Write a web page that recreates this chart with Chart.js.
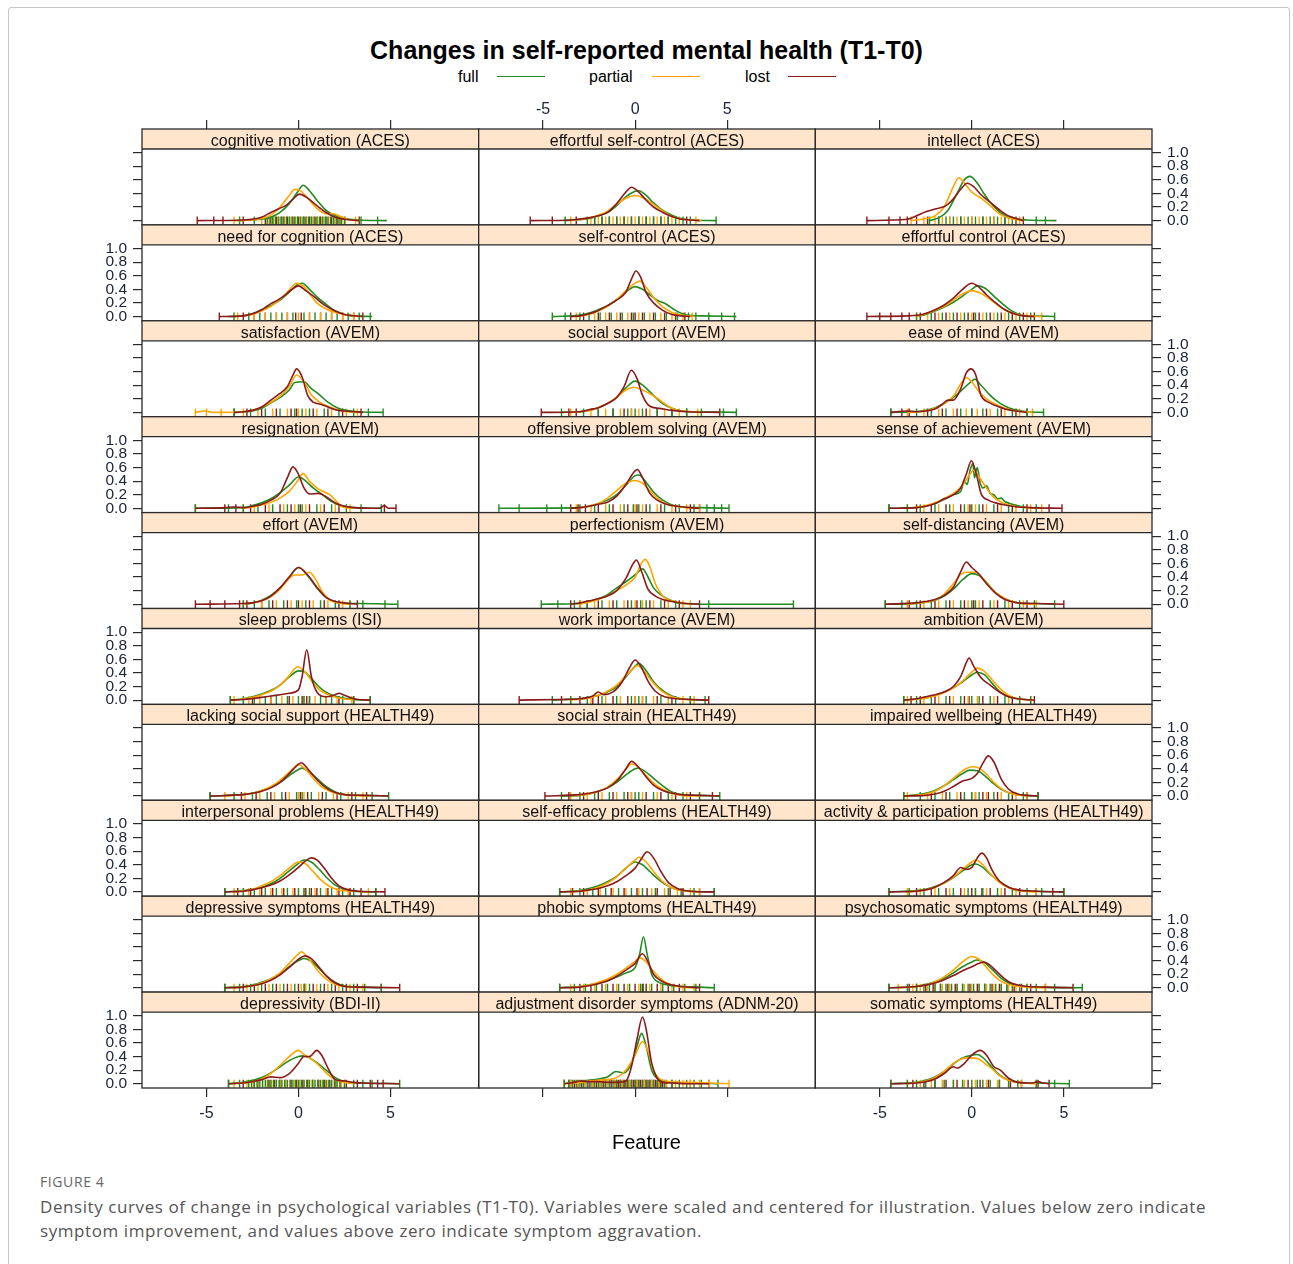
<!DOCTYPE html>
<html><head><meta charset="utf-8">
<script src="https://cdn.jsdelivr.net/npm/chart.js@4.4.1/dist/chart.umd.min.js"></script>
<style>
html,body{margin:0;padding:0;background:#fff;}
body{width:1293px;height:1264px;overflow:hidden;position:relative;font-family:"Liberation Sans",Arial,sans-serif;}
#frame{position:absolute;left:8px;top:7px;width:1282px;height:1300px;border:1px solid #c8c8c8;border-radius:3px;box-sizing:border-box;}
#title{position:absolute;left:0;width:1293px;top:35px;text-align:center;font-weight:bold;font-size:25px;line-height:30px;color:#000;}
.lg{position:absolute;top:67px;font-size:16px;line-height:20px;color:#000;}
.ln{position:absolute;top:76px;height:0;border-top:1.5px solid;}
#feature{position:absolute;left:0;width:1293px;top:1130px;text-align:center;font-size:20px;line-height:24px;color:#000;}
#figlab{position:absolute;left:40px;top:1172px;font-family:"Open Sans",sans-serif;font-size:14px;letter-spacing:0.6px;color:#666;}
#caption{position:absolute;left:40px;top:1195px;width:1185px;font-family:"Open Sans",sans-serif;font-size:17px;letter-spacing:0.58px;line-height:24px;color:#555;}
#cv{position:absolute;left:0;top:0;}
</style></head>
<body>
<div id="frame"></div>
<div id="title">Changes in self-reported mental health (T1-T0)</div>
<div class="lg" style="left:458px">full</div><div class="ln" style="left:497px;width:48px;border-color:#228B22"></div>
<div class="lg" style="left:589px">partial</div><div class="ln" style="left:652px;width:48px;border-color:#FFA500"></div>
<div class="lg" style="left:745px">lost</div><div class="ln" style="left:788px;width:48px;border-color:#8B1A1A"></div>
<canvas id="cv" width="1293" height="1160"></canvas>
<div id="feature">Feature</div>
<div id="figlab">FIGURE 4</div>
<div id="caption">Density curves of change in psychological variables (T1-T0). Variables were scaled and centered for illustration. Values below zero indicate symptom improvement, and values above zero indicate symptom aggravation.</div>
<script>
const groupNames = ['full','partial','lost'];
const groupColors = ['#228B22','#FFA500','#8B1A1A'];
const xTicks = [-5, 0, 5];
const yTicks = [0, 0.2, 0.4, 0.6, 0.8, 1.0];

const panelNames = [
 'cognitive motivation (ACES)','effortful self-control (ACES)','intellect (ACES)',
 'need for cognition (ACES)','self-control (ACES)','effortful control (ACES)',
 'satisfaction (AVEM)','social support (AVEM)','ease of mind (AVEM)',
 'resignation (AVEM)','offensive problem solving (AVEM)','sense of achievement (AVEM)',
 'effort (AVEM)','perfectionism (AVEM)','self-distancing (AVEM)',
 'sleep problems (ISI)','work importance (AVEM)','ambition (AVEM)',
 'lacking social support (HEALTH49)','social strain (HEALTH49)','impaired wellbeing (HEALTH49)',
 'interpersonal problems (HEALTH49)','self-efficacy problems (HEALTH49)','activity & participation problems (HEALTH49)',
 'depressive symptoms (HEALTH49)','phobic symptoms (HEALTH49)','psychosomatic symptoms (HEALTH49)',
 'depressivity (BDI-II)','adjustment disorder symptoms (ADNM-20)','somatic symptoms (HEALTH49)'
];

// density curves as [x, y, x, y, ...] per panel
const fullDensity = [
 [-3.2,0,-2,.02,-1.5,.05,-1,.12,-0.5,.25,0,.44,0.25,.52,0.6,.44,1,.3,1.5,.15,2,.07,2.5,.03,3.2,.01,4.8,0],
 [-3.8,0,-2.5,.03,-2,.07,-1.5,.12,-1,.22,-0.5,.35,0,.43,0.2,.44,0.6,.37,1,.26,1.5,.15,2,.08,2.5,.03,3,.01,4.4,0],
 [-2.3,0,-1.8,.04,-1.3,.15,-0.8,.4,-0.4,.6,-0.1,.65,0.3,.55,0.7,.38,1,.27,1.5,.13,2,.05,2.5,.02,3,.01,4.6,0],
 [-3.8,0,-3,.01,-2.5,.04,-2,.1,-1.5,.16,-1,.24,-0.5,.36,0,.48,0.2,.49,0.6,.4,1,.29,1.5,.18,2,.08,2.5,.03,3,.01,4,0],
 [-4.5,0,-3,.02,-2.5,.05,-2,.1,-1.5,.16,-1,.25,-0.5,.36,0,.44,0.4,.4,0.8,.32,1.2,.24,1.7,.18,2.2,.09,2.8,.02,3.5,.01,5.5,0],
 [-3,0,-2.5,.03,-2,.08,-1.5,.14,-1,.21,-0.5,.3,0,.4,0.3,.45,0.7,.42,1.2,.3,1.7,.18,2.2,.08,2.7,.02,3.2,.01,4.5,0],
 [-3.5,0,-2.5,.02,-2,.06,-1.5,.14,-1,.22,-0.5,.33,-0.2,.44,0.3,.45,0.7,.35,1.1,.27,1.6,.15,2.1,.07,2.6,.03,3.2,.01,4.6,0],
 [-4,0,-3,.01,-2.5,.03,-2,.07,-1.5,.13,-1,.22,-0.5,.36,0,.46,0.5,.38,1,.25,1.5,.13,2,.06,2.5,.02,3.5,.01,5.5,0],
 [-4.4,0,-3,.01,-2.5,.03,-2,.07,-1.5,.13,-1,.22,-0.5,.34,0,.46,0.15,.49,0.5,.4,1,.25,1.5,.14,2,.07,2.5,.03,3,.01,3.9,0],
 [-5.6,0,-3,.01,-2.5,.04,-2,.08,-1.5,.14,-1,.23,-0.5,.34,0,.46,0.4,.4,0.8,.3,1.3,.2,1.8,.1,2.3,.04,3,.01,4.5,0],
 [-7.4,0,-3,.01,-2.5,.03,-2,.07,-1.5,.12,-1,.2,-0.5,.34,0,.48,0.2,.49,0.6,.38,1,.24,1.5,.12,2,.05,2.5,.02,3.5,.01,5.1,0],
 [-4.5,0,-3,.01,-2.5,.03,-2,.07,-1.5,.13,-1,.2,-0.6,.25,-0.4,.4,-0.25,.35,-0.1,.55,0.05,.66,0.15,.45,0.3,.6,0.45,.38,0.6,.3,0.8,.33,1,.22,1.2,.2,1.4,.14,1.6,.15,1.8,.1,2.2,.06,2.8,.02,3.5,0],
 [-3,0,-2.5,.02,-2,.06,-1.5,.13,-1,.24,-0.5,.4,0,.54,0.5,.42,1,.24,1.5,.1,2,.03,2.5,.01,3.2,.01,5.4,0],
 [-5.1,0,-3,.01,-2.5,.04,-2,.08,-1.5,.14,-1,.24,-0.5,.33,0,.43,0.4,.52,0.7,.4,1,.24,1.5,.12,2,.05,2.5,.01,4,0,8.6,0],
 [-4.7,0,-3,.01,-2.5,.03,-2,.06,-1.5,.12,-1,.22,-0.5,.36,0,.45,0.4,.42,0.8,.32,1.3,.17,1.8,.08,2.5,.02,3.5,.01,4.5,0],
 [-3.7,0,-3,.02,-2.5,.05,-2,.09,-1.5,.14,-1,.22,-0.5,.34,0,.43,0.3,.42,0.7,.32,1.1,.2,1.6,.1,2.2,.04,3,.01,3.9,0],
 [-4.5,0,-3,.02,-2.5,.04,-2,.07,-1.5,.12,-1,.2,-0.5,.34,0,.5,0.2,.54,0.6,.43,1,.27,1.5,.14,2,.06,2.5,.02,3.8,0],
 [-3.7,0,-2.5,.03,-2,.07,-1.5,.12,-1,.18,-0.5,.27,0,.37,0.3,.41,0.7,.37,1.1,.25,1.5,.13,2,.05,2.5,.02,3.2,0],
 [-4.8,0,-3,.02,-2.5,.04,-2,.08,-1.5,.13,-1,.2,-0.5,.3,0,.39,0.2,.41,0.6,.35,1,.26,1.5,.14,2,.06,2.5,.02,3.5,.01,4.9,0],
 [-4,0,-3,.01,-2.5,.03,-2,.07,-1.5,.12,-1,.2,-0.5,.31,0,.4,0.15,.41,0.5,.37,1,.26,1.5,.15,2,.06,2.5,.02,3.5,.01,4.6,0],
 [-3.7,0,-2.5,.04,-2,.08,-1.5,.15,-1,.24,-0.5,.33,-0.1,.38,0.3,.37,0.7,.3,1.1,.2,1.6,.1,2.1,.04,2.8,.01,3.6,0],
 [-4,0,-3,.02,-2.5,.04,-2,.07,-1.5,.12,-1,.2,-0.5,.31,0,.42,0.3,.47,0.7,.44,1.1,.34,1.5,.22,2,.1,2.5,.04,3,.01,4.2,0],
 [-4.1,0,-3,.02,-2.5,.05,-2,.09,-1.5,.15,-1,.23,-0.5,.35,0,.44,0.4,.4,0.8,.3,1.2,.2,1.7,.1,2.2,.04,3,.01,4.3,0],
 [-4.5,0,-3,.02,-2.5,.04,-2,.08,-1.5,.13,-1,.21,-0.5,.31,0,.4,0.2,.41,0.6,.36,1,.26,1.5,.15,2,.07,2.5,.02,3.5,.01,5,0],
 [-4,0,-3,.02,-2.5,.04,-2,.08,-1.5,.13,-1,.21,-0.5,.31,0,.4,0.3,.43,0.7,.39,1.1,.29,1.5,.18,2,.08,2.5,.03,3.5,.01,4.5,0],
 [-4.1,0,-3,.02,-2.5,.04,-2,.07,-1.5,.11,-1,.16,-0.5,.22,0,.3,0.25,.5,0.45,.75,0.65,.5,0.9,.2,1.3,.08,1.8,.04,2.5,.02,3.5,.01,4.3,0],
 [-4.5,0,-3,.02,-2.5,.05,-2,.09,-1.5,.14,-1,.22,-0.5,.31,0,.38,0.3,.41,0.7,.37,1.1,.27,1.6,.14,2.1,.06,2.8,.02,3.5,.01,6,0],
 [-3.8,0,-3,.02,-2.5,.05,-2,.09,-1.5,.16,-1,.25,-0.5,.34,0,.4,0.25,.41,0.6,.38,1,.31,1.5,.2,2,.09,2.5,.03,3.5,.01,5.5,0],
 [-3.85,0,-3,.03,-2.5,.05,-2,.07,-1.5,.1,-1.05,.18,-0.6,.16,-0.2,.3,0.1,.55,0.35,.74,0.6,.55,0.9,.2,1.3,.06,2,.02,3,.01,4.5,0],
 [-4.4,0,-3,.02,-2.5,.05,-2,.1,-1.5,.18,-1,.29,-0.5,.38,0,.42,0.3,.43,0.7,.36,1.1,.24,1.5,.13,2,.05,2.5,.02,3.5,.01,5.3,0]
];
const partialDensity = [
 [-3.5,0,-2.5,.01,-2,.03,-1.5,.08,-1,.2,-0.5,.37,-0.2,.46,0.1,.44,0.5,.33,1,.18,1.5,.1,1.9,.1,2.3,.06,2.8,.01,3.3,0],
 [-3.5,0,-2.5,.04,-2,.08,-1.5,.14,-1,.24,-0.5,.33,0,.37,0.5,.33,1,.24,1.5,.14,2,.06,2.5,.02,3,.01,3.6,0],
 [-3.3,0,-2.5,.03,-2,.07,-1.5,.2,-1,.5,-0.7,.63,-0.4,.55,0,.42,0.5,.33,1,.22,1.5,.1,2,.04,2.8,0],
 [-3.5,0,-2.5,.03,-2,.08,-1.5,.15,-1,.25,-0.5,.39,-0.1,.49,0.3,.44,0.7,.3,1,.2,1.5,.11,2,.06,2.5,.03,3.3,0],
 [-3.2,0,-2.5,.03,-2,.08,-1.5,.15,-1,.25,-0.5,.38,0,.49,0.25,.52,0.6,.43,1,.28,1.5,.14,2,.06,2.5,.02,3.2,0],
 [-3,0,-2.5,.04,-2,.09,-1.5,.15,-1,.24,-0.5,.33,0,.38,0.5,.34,1,.25,1.5,.15,2,.07,2.5,.03,3,.01,3.8,0],
 [-5.6,0,-5.1,.02,-4.6,0,-3,.01,-2.5,.03,-2,.08,-1.5,.15,-1,.24,-0.5,.38,-0.1,.55,0.3,.45,0.7,.26,1.1,.16,1.6,.09,2.1,.04,2.6,.01,3.2,0],
 [-3.5,0,-2.5,.03,-2,.07,-1.5,.13,-1,.22,-0.5,.33,-0.1,.37,0.4,.33,0.9,.26,1.3,.19,1.8,.09,2.3,.03,3,.01,3.6,0],
 [-3.5,0,-2.5,.02,-2,.06,-1.5,.13,-1,.24,-0.6,.42,-0.3,.51,0,.45,0.4,.3,0.8,.2,1.3,.12,1.8,.06,2.4,.02,3.3,0],
 [-3,0,-2.5,.02,-2,.05,-1.5,.09,-1,.15,-0.5,.25,0,.42,0.25,.51,0.6,.4,1,.3,1.4,.24,1.7,.2,2,.12,2.4,.02,3,0],
 [-3.2,0,-2.5,.03,-2,.07,-1.5,.15,-1,.26,-0.5,.37,0,.41,0.4,.37,0.8,.26,1.2,.15,1.7,.06,2.2,.03,2.8,.01,3.5,0],
 [-3.5,0,-2.5,.04,-2,.08,-1.5,.14,-1,.22,-0.5,.34,-0.1,.5,0.1,.56,0.4,.46,0.8,.3,1.2,.16,1.7,.08,2.3,.03,3,.01,3.8,0],
 [-3,0,-2.5,.02,-2,.05,-1.5,.11,-1,.22,-0.5,.38,-0.2,.43,0.2,.43,0.6,.47,0.9,.38,1.3,.18,1.7,.06,2.2,.02,2.8,0],
 [-3,0,-2.5,.03,-2,.07,-1.5,.12,-1,.2,-0.5,.28,0,.4,0.3,.58,0.55,.66,0.8,.55,1.1,.3,1.5,.12,2,.05,2.5,.02,3,0],
 [-3.5,0,-2.5,.03,-2,.06,-1.5,.15,-1,.3,-0.6,.44,-0.3,.47,0.2,.47,0.6,.38,1,.25,1.5,.13,2,.06,2.5,.02,3.5,0],
 [-3.5,0,-2.5,.04,-2,.08,-1.5,.13,-1,.22,-0.5,.36,-0.05,.49,0.4,.4,0.8,.25,1.2,.14,1.7,.07,2.2,.03,3,0],
 [-3.5,0,-2.5,.03,-2,.07,-1.5,.13,-1,.22,-0.5,.36,0,.49,0.1,.51,0.5,.42,1,.25,1.5,.12,2,.05,2.5,.02,3.2,0],
 [-3.5,0,-2.5,.03,-2,.06,-1.5,.11,-1,.18,-0.5,.28,0,.41,0.3,.47,0.7,.42,1.1,.3,1.5,.18,2,.07,2.5,.02,3.2,0],
 [-4,0,-2.5,.04,-2,.08,-1.5,.14,-1,.23,-0.5,.35,0,.46,0.4,.39,0.8,.26,1.2,.15,1.7,.07,2.2,.03,3,.01,4,0],
 [-3.5,0,-2.5,.03,-2,.07,-1.5,.13,-1,.24,-0.5,.39,-0.2,.47,0.2,.42,0.6,.3,1,.19,1.5,.1,2,.04,2.5,.01,3.5,0],
 [-3.5,0,-2.5,.03,-2,.07,-1.5,.15,-1,.26,-0.5,.37,0,.43,0.4,.41,0.8,.32,1.2,.2,1.7,.09,2.2,.03,3,0],
 [-3.5,0,-2.5,.04,-2,.09,-1.5,.15,-1,.24,-0.5,.35,0,.44,0.4,.41,0.8,.3,1.2,.18,1.7,.08,2.2,.03,3,.01,3.8,0],
 [-3.5,0,-2.5,.03,-2,.07,-1.5,.13,-1,.22,-0.5,.35,0,.47,0.2,.51,0.6,.44,1,.3,1.5,.15,2,.06,2.5,.02,3.5,0],
 [-3.5,0,-2.5,.03,-2,.07,-1.5,.13,-1,.22,-0.5,.33,0,.44,0.2,.47,0.6,.4,1,.27,1.5,.14,2,.06,2.5,.02,3.5,0],
 [-3.5,0,-2.5,.03,-2,.07,-1.5,.13,-1,.22,-0.5,.36,0,.5,0.15,.53,0.5,.45,1,.27,1.5,.13,2,.05,2.5,.02,3.5,0],
 [-3.5,0,-2.5,.04,-2,.08,-1.5,.13,-1,.2,-0.5,.29,0,.39,0.25,.44,0.6,.38,1,.24,1.5,.11,2,.04,2.5,.01,3.2,0],
 [-4,0,-3,.02,-2.5,.04,-2,.09,-1.5,.16,-1,.26,-0.5,.38,0,.46,0.4,.42,0.8,.3,1.2,.18,1.7,.08,2.3,.03,3,.01,4,0],
 [-3.5,0,-2.5,.03,-2,.07,-1.5,.15,-1,.27,-0.5,.4,0,.49,0.3,.43,0.7,.36,1,.3,1.5,.16,2,.06,2.5,.02,3,0],
 [-3.85,0,-3,.02,-2.5,.04,-2,.05,-1.5,.06,-1,.09,-0.5,.2,0,.42,0.4,.62,0.7,.48,1,.2,1.4,.06,2,.03,3,.02,4,.01,5.1,0],
 [-3.5,0,-2.5,.04,-2,.09,-1.5,.18,-1,.3,-0.5,.37,-0.15,.38,0.3,.37,0.7,.3,1.1,.22,1.5,.12,2,.05,2.5,.02,3.5,0]
];
const lostDensity = [
 [-5.5,0,-3,.01,-2,.05,-1.5,.12,-1.1,.17,-0.6,.24,-0.2,.34,0.05,.39,0.5,.33,1,.22,1.5,.12,2,.05,2.5,.02,3.3,0],
 [-5.7,0,-3.5,.01,-2.5,.04,-2,.07,-1.5,.12,-1,.25,-0.5,.42,-0.2,.49,0.2,.42,0.6,.3,1,.2,1.5,.12,2,.06,2.5,.02,3,.01,3.5,0],
 [-5.7,0,-3.5,.02,-3,.07,-2.5,.13,-2,.17,-1.4,.22,-1,.32,-0.6,.46,-0.25,.55,0.1,.5,0.5,.38,1,.27,1.5,.16,2,.07,2.8,0],
 [-4.3,0,-3,.01,-2.5,.04,-2,.1,-1.5,.19,-1.2,.23,-0.8,.3,-0.4,.39,0,.45,0.4,.38,0.9,.28,1.4,.17,2,.08,2.5,.03,3.5,0],
 [-3.5,0,-3,.01,-2.5,.04,-2,.09,-1.5,.16,-1,.24,-0.5,.36,-0.2,.55,0.05,.67,0.3,.58,0.6,.35,1,.2,1.5,.09,2,.03,2.5,.01,3,0],
 [-5.7,0,-3.5,.01,-2.7,.03,-2,.1,-1.5,.17,-1,.27,-0.5,.4,0,.49,0.4,.43,0.8,.32,1.3,.2,1.8,.1,2.3,.04,2.8,.01,3.4,0],
 [-3.5,0,-3,.01,-2.5,.03,-2,.08,-1.5,.18,-1.1,.26,-0.6,.38,-0.3,.55,-0.1,.64,0.2,.52,0.5,.25,0.8,.15,1.2,.12,1.6,.08,2,.04,2.5,.02,3,.01,3.5,0],
 [-5.1,0,-3,.01,-2.5,.04,-2,.07,-1.5,.13,-1,.22,-0.6,.38,-0.2,.62,0.1,.5,0.4,.25,0.8,.09,1.3,.06,2,.03,2.8,.01,4.6,0],
 [-4.4,0,-3.5,.02,-3,.01,-2.5,.02,-2,.05,-1.6,.12,-1.3,.18,-1,.18,-0.6,.35,-0.3,.58,-0.05,.64,0.2,.56,0.5,.25,0.9,.15,1.3,.1,1.8,.05,2.4,.02,3,0],
 [-5.6,0,-4,.01,-3.5,.02,-3,.01,-2.5,.03,-2,.06,-1.5,.12,-1,.22,-0.6,.45,-0.3,.61,0,.5,0.3,.3,0.6,.21,1.1,.22,1.5,.17,2,.08,2.5,.03,3,.01,4.4,0,4.67,.04,4.9,0,5.3,0],
 [-3.5,0,-3,.01,-2.5,.03,-2,.06,-1.5,.09,-1,.18,-0.5,.35,-0.1,.52,0.12,.57,0.4,.45,0.8,.22,1.2,.12,1.7,.06,2.3,.03,3,.01,3.5,0],
 [-4.5,0,-3,.01,-2.5,.03,-2,.07,-1.5,.14,-1,.2,-0.6,.3,-0.3,.5,-0.02,.7,0.25,.5,0.5,.22,0.9,.12,1.3,.08,1.8,.05,2.5,.02,3.2,.01,4.9,0],
 [-5.6,0,-3,.01,-2.5,.02,-2,.05,-1.5,.12,-1,.24,-0.5,.4,0,.54,0.5,.43,1,.25,1.5,.1,2,.04,2.5,.02,3.2,0],
 [-3.5,0,-3,.02,-2.5,.05,-2,.08,-1.5,.12,-1,.2,-0.5,.38,-0.1,.6,0.07,.65,0.35,.48,0.7,.22,1.1,.12,1.5,.07,2,.04,2.8,.01,3.5,0],
 [-4.7,0,-3,.02,-2.5,.04,-2,.07,-1.5,.13,-1,.25,-0.6,.48,-0.3,.62,0,.54,0.4,.44,0.8,.3,1.3,.16,1.8,.07,2.5,.02,3.5,.01,5,0],
 [-3.7,0,-3,.01,-2,.04,-1.5,.06,-1,.08,-0.5,.1,0,.15,0.2,.35,0.45,.74,0.7,.35,1,.12,1.5,.05,2,.08,2.2,.1,2.5,.07,3,.02,3.9,0],
 [-6.3,0,-4,.01,-3,.02,-2.3,.06,-2,.12,-1.7,.08,-1.2,.12,-0.7,.27,-0.3,.48,0,.59,0.3,.5,0.7,.28,1.1,.13,1.6,.05,2.2,.02,3,.01,4,0],
 [-3.7,0,-3,.02,-2.5,.05,-2,.08,-1.5,.12,-1,.2,-0.6,.35,-0.3,.55,-0.15,.62,0.1,.5,0.5,.33,1,.22,1.5,.12,2,.05,2.5,.02,3.4,0],
 [-4.8,0,-3,.02,-2.5,.04,-2,.07,-1.5,.12,-1,.2,-0.5,.33,0,.47,0.15,.49,0.5,.4,1,.24,1.5,.12,2,.05,2.5,.02,3.5,.01,4.9,0],
 [-4.9,0,-3,.02,-2.5,.04,-2,.07,-1.5,.12,-1,.22,-0.5,.4,-0.2,.51,0.2,.42,0.6,.28,1,.16,1.5,.08,2,.04,2.5,.02,3.5,.01,4.6,0],
 [-3.7,0,-2.5,.01,-2,.03,-1.5,.07,-1,.14,-0.5,.22,0,.26,0.3,.33,0.6,.48,0.9,.59,1.2,.5,1.6,.25,2,.1,2.5,.03,3,.01,3.6,0],
 [-4,0,-3,.01,-2.5,.03,-2,.06,-1.5,.1,-1,.16,-0.5,.25,0,.36,0.4,.46,0.7,.5,1,.47,1.4,.35,1.8,.2,2.2,.09,2.7,.03,3.3,.01,4.7,0],
 [-4.1,0,-3,.01,-2.5,.03,-2,.05,-1.5,.09,-1,.15,-0.5,.24,0,.35,0.3,.47,0.65,.59,1,.5,1.4,.3,1.8,.14,2.3,.05,3,.01,4.3,0],
 [-4.5,0,-3,.01,-2.5,.03,-2,.07,-1.5,.14,-1,.24,-0.6,.36,-0.3,.33,0,.36,0.3,.5,0.55,.57,0.8,.5,1.1,.32,1.5,.16,2,.07,2.5,.03,3.5,.01,5,0],
 [-4,0,-3,.01,-2.5,.03,-2,.06,-1.5,.11,-1,.19,-0.5,.3,0,.42,0.35,.47,0.7,.43,1.1,.31,1.5,.18,2,.07,2.5,.02,3.5,.01,5.5,0],
 [-4.1,0,-3,.01,-2.5,.03,-2,.06,-1.5,.1,-1,.17,-0.5,.26,0,.36,0.4,.5,0.7,.38,1,.2,1.5,.09,2,.04,2.5,.02,3.5,0],
 [-4.5,0,-3,.02,-2.5,.04,-2,.07,-1.5,.12,-1,.18,-0.5,.25,0,.31,0.4,.36,0.65,.38,1,.33,1.5,.2,2,.09,2.5,.04,3,.02,4,.01,5.5,0],
 [-3.8,0,-3,.01,-2.5,.03,-2,.06,-1.5,.1,-1,.09,-0.5,.15,0,.3,0.3,.4,0.6,.4,1,.49,1.3,.4,1.6,.23,2,.06,2.5,.04,3,.02,3.5,.01,5.5,0],
 [-3.85,0,-3.3,.02,-3,.04,-2.5,.03,-2,.03,-1.5,.02,-1,.02,-0.5,.04,-0.2,.25,0.1,.65,0.4,.98,0.6,.8,0.9,.3,1.2,.08,1.5,.02,2,.01,3,0,4,0],
 [-4.4,0,-3,.01,-2.5,.03,-2,.07,-1.5,.15,-1,.25,-0.8,.23,-0.4,.3,0,.42,0.45,.49,0.8,.42,1.2,.25,1.55,.2,2,.08,2.5,.02,3.3,.01,3.6,.03,3.9,.01,4.2,0]
];

// rug (observed values) per panel
const fullRug = [
 [-3.2,-2.4,-1.7,-1.55,-1.4,-1.25,-1.1,-0.95,-0.8,-0.65,-0.5,-0.35,-0.2,-0.05,0.1,0.25,0.4,0.55,0.7,0.85,1.0,1.15,1.3,1.45,1.6,1.75,1.9,2.05,2.2,2.35,2.5,3.4,4.3],
 [-3.8,-2.6,-2.2,-1.8,-1.4,-1.0,-0.6,-0.2,0.2,0.6,1.0,1.4,1.8,2.2,2.6,3.0,4.4],
 [-2.3,-1.8,-1.4,-1.0,-0.6,-0.2,0.2,0.6,1.0,1.4,1.8,2.2,3.5,4.0],
 [-3.5,-2.7,-2.1,-1.5,-0.9,-0.3,0.3,0.9,1.5,2.1,2.7,3.3,3.9],
 [-4.5,-3.8,-3.0,-2.5,-1.9,-1.3,-0.7,-0.1,0.5,1.1,1.7,2.3,2.9,3.3,4.0,4.7,5.4],
 [-3.0,-2.2,-1.6,-1.0,-0.4,0.2,0.8,1.4,2.0,2.6,3.2,4.5],
 [-3.5,-2.6,-1.8,-1.0,-0.2,0.2,0.6,1.4,2.2,3.0,3.8,4.6],
 [-4.0,-2.8,-2.0,-1.2,-0.4,0,0.4,1.2,2.0,2.8,3.6,4.8,5.5],
 [-4.4,-3.0,-2.2,-1.4,-0.6,0,0.6,1.4,2.2,3.0,3.9],
 [-5.6,-3.8,-3.0,-2.2,-1.4,-0.6,0,0.2,1.0,1.8,2.6,3.4,4.5],
 [-7.4,-6.3,-4.8,-4.0,-3.0,-2.2,-1.4,-0.6,-0.1,0.2,0.8,1.6,2.4,3.2,3.9,4.3,4.7,5.1],
 [-4.5,-3.5,-2.8,-2.0,-1.2,-0.4,0,0.4,1.2,2.0,2.8,3.5],
 [-3.0,-2.4,-1.6,-0.8,-0.1,0.4,1.2,2.0,2.8,3.5,4.7,5.4],
 [-5.1,-4.2,-3.3,-2.6,-1.8,-1.0,-0.2,0.3,0.6,1.4,2.2,4.0,8.6],
 [-4.7,-3.8,-3.0,-2.2,-1.4,-0.6,0,0.2,1.0,1.8,2.6,3.4,4.5],
 [-3.7,-3.0,-2.4,-1.8,-1.2,-0.6,0,0.3,0.6,1.2,1.8,2.4,3.0,3.9],
 [-4.5,-3.5,-2.6,-1.8,-1.0,-0.2,0.2,0.6,1.4,2.2,3.0,3.8],
 [-3.7,-3.0,-2.2,-1.4,-0.6,0,0.4,1.0,1.8,2.6,3.2],
 [-4.8,-3.5,-2.5,-1.7,-0.9,-0.1,0.2,0.7,1.5,2.3,3.1,4.0,4.9],
 [-4.0,-3.0,-2.2,-1.4,-0.6,0,0.2,1.0,1.8,2.6,3.5,4.6],
 [-3.7,-2.8,-2.0,-1.2,-0.4,0,0.4,1.2,2.0,2.8,3.6],
 [-4.0,-3.0,-2.4,-1.8,-1.2,-0.6,0,0.3,0.6,1.2,1.8,2.4,3.0,4.2],
 [-4.1,-3.0,-2.3,-1.6,-0.9,-0.2,0.4,1.1,1.8,2.5,3.2,4.3],
 [-4.5,-3.4,-2.6,-1.8,-1.0,-0.2,0.2,0.6,1.4,2.2,3.0,3.8,5.0],
 [-4.0,-3.2,-2.6,-2.0,-1.4,-0.8,-0.2,0.3,0.6,1.2,1.8,2.4,3.0,3.6,4.5],
 [-4.1,-3.3,-2.7,-2.1,-1.5,-0.9,-0.3,0.3,0.45,0.9,1.5,2.1,2.7,3.3,4.3],
 [-4.5,-3.5,-3.0,-2.6,-2.3,-2.0,-1.7,-1.4,-1.1,-0.8,-0.5,-0.2,0.1,0.4,0.7,1.0,1.3,1.6,1.9,2.2,2.6,3.0,3.5,4.5,6.0],
 [-3.8,-3.2,-2.7,-2.55,-2.4,-2.25,-2.1,-1.95,-1.8,-1.65,-1.5,-1.35,-1.2,-1.05,-0.9,-0.75,-0.6,-0.45,-0.3,-0.15,0,0.15,0.3,0.45,0.6,0.75,0.9,1.05,1.2,1.35,1.5,1.65,1.8,1.95,2.1,2.25,2.5,3.0,3.5,4.0,5.5],
 [-3.85,-3.6,-3.4,-3.2,-3.0,-2.8,-2.6,-2.4,-2.2,-2.0,-1.8,-1.6,-1.4,-1.2,-1.0,-0.8,-0.6,-0.4,-0.2,0,0.2,0.4,0.6,0.8,1.0,1.2,1.4,1.6,2.0,2.4,2.8,3.2,3.6,4.5],
 [-4.4,-3.5,-3.0,-2.5,-2.0,-1.5,-1.0,-0.5,0,0.3,0.6,1.0,1.5,2.0,2.5,3.5,4.5,5.3]
];
const partialRug = [
 [-3.5,-2.0,-1.65,-1.35,-1.05,-0.75,-0.45,-0.15,0.15,0.45,0.75,1.05,1.35,1.65,1.95,2.25,2.55,3.1],
 [-3.5,-2.4,-2.0,-1.6,-1.2,-0.8,-0.4,0,0.4,0.8,1.2,1.6,2.0,2.4,3.3],
 [-3.3,-2.6,-2.0,-1.6,-1.2,-0.8,-0.4,0,0.4,0.8,1.2,1.6,2.0,2.6],
 [-3.3,-2.4,-1.8,-1.2,-0.6,0,0.6,1.2,1.8,2.4,3.0],
 [-3.2,-2.2,-1.6,-1.0,-0.4,0.2,0.8,1.4,2.0,2.6,3.1],
 [-3.0,-2.4,-1.8,-1.2,-0.6,0,0.6,1.2,1.8,2.4,3.0,3.8],
 [-5.6,-5.0,-4.2,-3.0,-2.2,-1.4,-0.6,0,0.4,1.0,1.8,2.6,3.2],
 [-3.5,-2.4,-1.6,-0.8,-0.2,0.2,0.8,1.6,2.4,3.4],
 [-3.5,-2.6,-1.8,-1.0,-0.3,0.3,1.0,1.8,2.6,3.3],
 [-3.0,-2.4,-1.6,-0.8,-0.2,0.4,1.2,2.0,2.8],
 [-3.2,-2.4,-1.6,-0.8,0,0.4,1.2,2.0,2.8,3.5],
 [-3.5,-2.6,-1.8,-1.0,-0.2,0.2,0.8,1.6,2.4,3.2,3.8],
 [-3.0,-2.0,-1.2,-0.4,0.2,0.8,1.6,2.4,2.8],
 [-3.0,-2.2,-1.4,-0.6,0,0.4,1.0,1.8,2.6,3.0],
 [-3.5,-2.6,-1.8,-1.0,-0.2,0.4,1.2,2.0,2.8,3.5],
 [-3.5,-2.7,-2.1,-1.5,-0.9,-0.3,0.3,0.9,1.5,2.1,2.9],
 [-3.5,-2.4,-1.6,-0.8,0,0.4,1.0,1.8,2.6,3.2],
 [-3.5,-2.6,-1.8,-1.0,-0.2,0.3,1.2,2.0,2.6,3.2],
 [-4.0,-2.9,-2.1,-1.3,-0.5,0,0.3,1.1,1.9,2.7,3.5],
 [-3.5,-2.6,-1.8,-1.0,-0.2,0.4,1.2,2.0,2.8,3.5],
 [-3.5,-2.4,-1.6,-0.8,0,0.2,0.8,1.6,2.4,3.0],
 [-3.5,-2.7,-2.1,-1.5,-0.9,-0.3,0.3,0.9,1.5,2.1,2.7,3.8],
 [-3.5,-2.6,-1.9,-1.2,-0.5,0.2,0.9,1.6,2.3,3.0,3.5],
 [-3.5,-2.8,-2.0,-1.2,-0.4,0.2,0.8,1.6,2.4,3.5],
 [-3.5,-2.8,-2.2,-1.6,-1.0,-0.4,0.15,0.4,1.0,1.6,2.2,2.8,3.5],
 [-3.5,-2.8,-2.2,-1.6,-1.0,-0.4,0.2,0.8,1.4,2.0,2.6,3.2],
 [-4.0,-3.2,-2.8,-2.4,-2.0,-1.6,-1.2,-0.8,-0.4,0,0.4,0.8,1.2,1.6,2.0,2.4,3.0,4.0],
 [-3.5,-2.8,-2.45,-2.2,-1.95,-1.7,-1.45,-1.2,-0.95,-0.7,-0.45,-0.2,0.05,0.3,0.55,0.8,1.05,1.3,1.55,1.8,2.05,2.3,2.5],
 [-3.85,-3.5,-3.1,-2.7,-2.3,-1.9,-1.5,-1.1,-0.7,-0.3,0.1,0.5,0.9,1.3,1.7,2.2,2.6,3.0,3.5,4.0,5.1],
 [-3.5,-2.8,-2.2,-1.6,-1.0,-0.4,0.2,0.8,1.4,2.0,2.7,3.5]
];
const lostRug = [
 [-5.5,-4.6,-4.1,-3.0,-1.8,-1.5,-1.2,-0.9,-0.6,-0.3,0,0.3,0.6,0.9,1.2,1.5,1.8,2.1,2.3,3.3],
 [-5.7,-4.5,-3.2,-2.2,-1.8,-1.4,-1.0,-0.6,-0.2,0.2,0.6,1.0,1.4,1.8,2.8],
 [-5.7,-4.5,-3.9,-3.5,-3.0,-2.4,-1.8,-1.2,-0.6,0,0.6,1.2,1.8,2.4,2.8],
 [-4.3,-3.0,-2.4,-1.8,-1.2,-0.6,-0.15,0.15,0.6,1.2,1.8,2.4,3.0,3.5],
 [-3.5,-2.8,-2.0,-1.4,-0.8,-0.2,0,0.4,1.0,1.6,2.2,2.7],
 [-5.7,-5.0,-4.4,-3.8,-3.4,-2.8,-2.0,-1.4,-0.8,-0.2,0.1,0.4,1.0,1.6,2.2,2.8,3.4],
 [-3.5,-2.8,-2.0,-1.2,-0.4,-0.1,0.8,1.6,2.4,3.4],
 [-5.1,-3.6,-3.2,-2.0,-1.2,-0.6,-0.2,0.6,1.2,2.0,2.8,4.6],
 [-4.4,-3.8,-3.4,-2.4,-1.6,-0.8,0,0.8,1.6,2.4,3.0],
 [-5.6,-4.0,-3.4,-2.6,-1.8,-1.0,-0.4,0.1,0.6,1.4,2.2,4.67,5.3],
 [-3.5,-3.1,-2.7,-2.0,-1.2,-0.4,0.1,0.6,1.4,2.2,3.0,3.5],
 [-4.5,-3.0,-2.2,-1.4,-0.6,-0.1,0.6,1.4,2.2,3.0,4.2,4.9],
 [-5.6,-4.8,-4.0,-3.2,-2.8,-2.0,-1.4,-0.6,0,0.6,1.4,2.2,3.2],
 [-3.5,-3.0,-2.6,-2.0,-1.2,-0.4,0.1,0.8,1.6,2.4,3.5],
 [-4.7,-3.4,-2.8,-2.0,-1.2,-0.4,0.1,0.6,1.4,2.2,3.0,5.0],
 [-3.7,-2.5,-1.5,-0.5,0.2,0.45,0.6,1.5,2.2,3.0,3.9],
 [-6.3,-4.0,-3.0,-2.3,-2.0,-1.2,-0.4,0,0.4,1.2,2.0,3.0,4.0],
 [-3.7,-3.3,-2.8,-2.0,-1.2,-0.4,-0.15,0.6,1.4,2.2,3.4],
 [-4.8,-3.1,-2.3,-1.5,-0.7,0.1,0.5,1.3,2.1,2.9,3.7],
 [-4.9,-3.6,-2.8,-2.0,-1.2,-0.4,-0.2,0.6,1.4,2.2,3.0,4.2],
 [-3.7,-2.2,-1.4,-0.6,0.2,0.6,0.9,1.4,2.2,3.0,3.6],
 [-4.0,-3.3,-2.6,-2.0,-1.4,-0.8,-0.2,0.4,0.7,1.0,1.6,2.2,2.8,3.4,4.2,4.7],
 [-4.1,-3.4,-2.8,-2.0,-1.3,-0.6,0.1,0.65,1.2,1.9,2.6,3.5,4.3],
 [-4.5,-3.0,-2.2,-1.4,-0.6,0,0.55,1.0,1.8,2.6,3.5,4.4,5.0],
 [-4.0,-3.0,-2.4,-1.8,-1.2,-0.6,0,0.35,0.8,1.4,2.0,2.6,3.2,4.5,5.5],
 [-4.1,-3.0,-2.4,-1.8,-1.2,-0.6,0,0.4,0.6,1.2,1.8,2.4,3.5],
 [-4.5,-3.4,-3.0,-2.5,-2.1,-1.7,-1.3,-0.9,-0.5,-0.1,0.3,0.7,1.1,1.5,1.9,2.3,2.7,3.2,4.0,5.5],
 [-3.8,-3.0,-2.2,-1.6,-1.3,-1.0,-0.7,-0.4,-0.1,0.2,0.5,0.8,1.1,1.4,1.7,2.0,2.3,2.6,3.2,3.9,4.3,4.6],
 [-3.85,-3.6,-3.5,-3.3,-3.1,-2.9,-2.7,-2.5,-2.3,-2.1,-1.9,-1.7,-1.5,-1.3,-1.1,-1.0,-0.9,-0.8,-0.7,-0.6,-0.5,-0.4,-0.3,-0.2,-0.1,0,0.1,0.2,0.3,0.4,0.5,0.6,0.7,0.8,0.9,1.0,1.1,1.2,1.3,1.4,1.5,1.7,2.0,3.0,4.0],
 [-4.4,-3.2,-2.6,-2.0,-1.4,-0.8,-0.2,0.45,0.9,1.5,2.1,2.7,3.6,4.2]
];

// axis limits (lattice-style padding)
const X_MIN = -8.5, X_MAX = 9.79;
const Y_MIN = -0.063, STRIP_BASE = 1.053, Y_MAX = 1.347;
const NROW = 10, NCOL = 3;
const FONT = '"Liberation Sans", Arial, sans-serif';
const AXIS_COL = '#1c2238';
const LINE_COL = '#2a2a2a';
const HIDDEN = 'rgba(0,0,0,0)';

const curveSets = [fullDensity, partialDensity, lostDensity];
const rugSets = [fullRug, partialRug, lostRug];
const toPts = flat => { const o = []; for (let i = 0; i < flat.length; i += 2) o.push({x: flat[i], y: flat[i+1]}); return o; };

const datasets = [];
panelNames.forEach((name, p) => {
  const r = Math.floor(p / NCOL), c = p % NCOL;
  rugSets.forEach((rugs, g) => {
    datasets.push({
      label: groupNames[g] + ' rug ' + name,
      data: rugs[p].map(v => ({x: v, y: 0})),
      xAxisID: 'x' + c, yAxisID: 'y' + r,
      showLine: false, pointStyle: 'line', rotation: 90, pointRadius: 4,
      pointBorderWidth: 1.4, borderColor: groupColors[g], pointBorderColor: groupColors[g],
      backgroundColor: groupColors[g], order: 10 + g
    });
  });
  curveSets.forEach((curves, g) => {
    datasets.push({
      label: groupNames[g] + ' ' + name,
      data: toPts(curves[p]),
      xAxisID: 'x' + c, yAxisID: 'y' + r,
      showLine: true, pointRadius: 0, borderWidth: 1.6,
      borderColor: groupColors[g], backgroundColor: groupColors[g],
      cubicInterpolationMode: 'monotone', fill: false, order: 3 - g
    });
  });
});

function xScale(c, pos) {
  const bottom = pos === 'bottom';
  const labels = bottom ? c !== 1 : c === 1;
  return {
    type: 'linear', position: pos, stack: bottom ? 'xb' : 'xt', stackWeight: 1,
    weight: bottom ? c : -c, min: X_MIN, max: X_MAX,
    afterBuildTicks: s => { s.ticks = xTicks.map(v => ({value: v})); },
    afterFit: s => { s.height = 40; },
    grid: {display: true, drawOnChartArea: false, drawTicks: true, tickLength: 9, color: LINE_COL, lineWidth: 1.2},
    border: {display: false},
    ticks: {autoSkip: false, maxRotation: 0, padding: bottom ? 7 : 1, color: labels ? AXIS_COL : HIDDEN,
            font: {family: FONT, size: 16}, callback: v => String(v)}
  };
}
function yScale(r, side) {
  const left = side === 'left';
  const labels = left ? r % 2 === 1 : r % 2 === 0;
  return {
    type: 'linear', position: side, stack: left ? 'yl' : 'yr', stackWeight: 1,
    weight: left ? -r : r, min: Y_MIN, max: Y_MAX,
    afterBuildTicks: s => { s.ticks = yTicks.map(v => ({value: v})); },
    afterFit: s => { s.width = 60; },
    grid: {display: true, drawOnChartArea: false, drawTicks: true, tickLength: 9, color: LINE_COL, lineWidth: 1.2},
    border: {display: false},
    ticks: {autoSkip: false, padding: 6, color: labels ? AXIS_COL : HIDDEN,
            font: {family: FONT, size: 15.5}, callback: v => v.toFixed(1)}
  };
}
const scales = {};
for (let c = 0; c < NCOL; c++) { scales['x' + c] = xScale(c, 'bottom'); scales['t' + c] = xScale(c, 'top'); }
for (let r = 0; r < NROW; r++) { scales['y' + r] = yScale(r, 'left'); scales['r' + r] = yScale(r, 'right'); }

const stripPlugin = {
  id: 'strips',
  afterDraw(chart) {
    const ctx = chart.ctx;
    ctx.save();
    panelNames.forEach((name, p) => {
      const r = Math.floor(p / NCOL), c = p % NCOL;
      const xs = chart.scales['x' + c], ys = chart.scales['y' + r];
      const L = xs.left, R = xs.right, T = ys.top, B = ys.bottom;
      const sb = ys.getPixelForValue(STRIP_BASE);
      ctx.fillStyle = '#FFE5CC';
      ctx.fillRect(L, T, R - L, sb - T);
      ctx.fillStyle = '#111';
      ctx.font = '16px ' + FONT;
      ctx.textAlign = 'center';
      ctx.textBaseline = 'middle';
      ctx.fillText(name, (L + R) / 2, (T + sb) / 2 + 2.5);
      ctx.strokeStyle = LINE_COL;
      ctx.lineWidth = 1.3;
      ctx.strokeRect(L, T, R - L, B - T);
      ctx.beginPath(); ctx.moveTo(L, sb); ctx.lineTo(R, sb); ctx.stroke();
    });
    ctx.restore();
  }
};

new Chart(document.getElementById('cv'), {
  type: 'scatter',
  data: {datasets},
  options: {
    responsive: false, animation: false, events: [],
    layout: {padding: {left: 82, right: 81, top: 89, bottom: 32}},
    plugins: {legend: {display: false}, tooltip: {enabled: false}, title: {display: false}},
    scales
  },
  plugins: [stripPlugin]
});
</script>
</body></html>
